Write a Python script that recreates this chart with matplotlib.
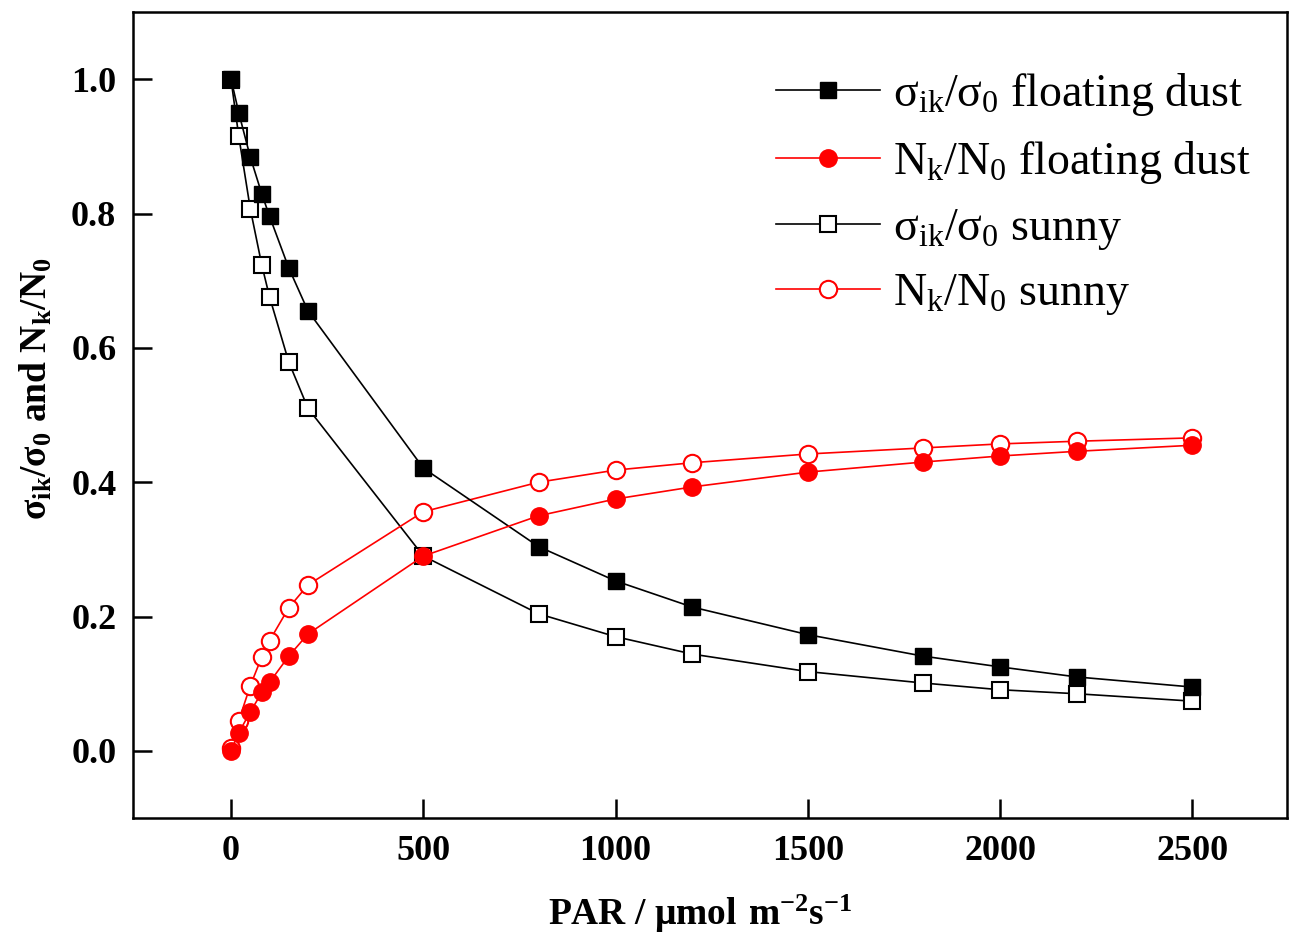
import matplotlib
matplotlib.use("Agg")
import matplotlib.pyplot as plt

plt.rcParams['font.family'] = ['Liberation Serif', 'DejaVu Serif']
plt.rcParams['mathtext.fontset'] = 'custom'
plt.rcParams['mathtext.rm'] = 'Liberation Serif'
plt.rcParams['mathtext.bf'] = 'Liberation Serif:bold'

par = [0, 20, 50, 80, 100, 150, 200, 500, 800, 1000, 1200, 1500, 1800, 2000, 2200, 2500]
sigma_dust = [1.0, 0.95, 0.884, 0.829, 0.796, 0.719, 0.655, 0.421, 0.304, 0.253, 0.214, 0.173, 0.141, 0.125, 0.110, 0.095]
n_dust = [0.0, 0.027, 0.058, 0.087, 0.102, 0.141, 0.174, 0.290, 0.350, 0.375, 0.393, 0.415, 0.430, 0.439, 0.446, 0.455]
sigma_sunny = [0.999, 0.915, 0.807, 0.723, 0.676, 0.579, 0.510, 0.290, 0.204, 0.170, 0.144, 0.118, 0.101, 0.091, 0.085, 0.074]
n_sunny = [0.004, 0.045, 0.097, 0.140, 0.164, 0.213, 0.247, 0.356, 0.400, 0.418, 0.429, 0.442, 0.451, 0.457, 0.461, 0.466]

xticks = [0, 500, 1000, 1500, 2000, 2500]
yticks = [0.0, 0.2, 0.4, 0.6, 0.8, 1.0]

fig = plt.figure(figsize=(12.89, 9.41), dpi=100)
ax = fig.add_axes([0.1032, 0.1307, 0.8955, 0.8565])

lw = 1.2
ms = 11.5
ax.plot(par, sigma_dust, color='black', lw=lw, marker='s', ms=ms, mfc='black', mec='black',
        label=r'$\mathregular{\sigma_{ik}/\sigma_0}$ floating dust', zorder=3)
ax.plot(par, n_dust, color='red', lw=lw, marker='o', ms=ms + 1, mfc='red', mec='red',
        label=r'$\mathregular{N_k/N_0}$ floating dust', zorder=3)
ax.plot(par, sigma_sunny, color='black', lw=lw, marker='s', ms=ms, mfc='white', mec='black', mew=1.5,
        label=r'$\mathregular{\sigma_{ik}/\sigma_0}$ sunny', zorder=2)
ax.plot(par, n_sunny, color='red', lw=lw, marker='o', ms=ms + 1, mfc='white', mec='red', mew=1.5,
        label=r'$\mathregular{N_k/N_0}$ sunny', zorder=2)

ax.set_xlim(-255, 2747)
ax.set_ylim(-0.1, 1.1)
ax.set_xticks(xticks)
ax.set_xticklabels([str(v) for v in xticks])
ax.set_yticks(yticks)
ax.set_yticklabels([f"{v:.1f}" for v in yticks])
ax.tick_params(direction='in', length=14, width=1.8, labelsize=26, pad=12)
for lab in ax.get_xticklabels() + ax.get_yticklabels():
    lab.set_fontweight('bold')
for sp in ax.spines.values():
    sp.set_linewidth(1.8)

ax.set_xlabel(r'PAR / $\mathregular{\mu mol\ m^{-2}s^{-1}}$', fontsize=27, fontweight='bold')
ax.set_ylabel(r'$\mathregular{\sigma_{ik}/\sigma_0}$ and $\mathregular{N_k/N_0}$', fontsize=27, fontweight='bold')
ax.xaxis.set_label_coords(0.491, -0.093)
ax.yaxis.set_label_coords(-0.068, 0.533)

leg = ax.legend(loc='upper left', bbox_to_anchor=(0.541, 0.949), frameon=False, fontsize=33,
                handlelength=2.27, handletextpad=0.28, labelspacing=0.45, borderaxespad=0.0)

fig.savefig('out.png', dpi=100)
